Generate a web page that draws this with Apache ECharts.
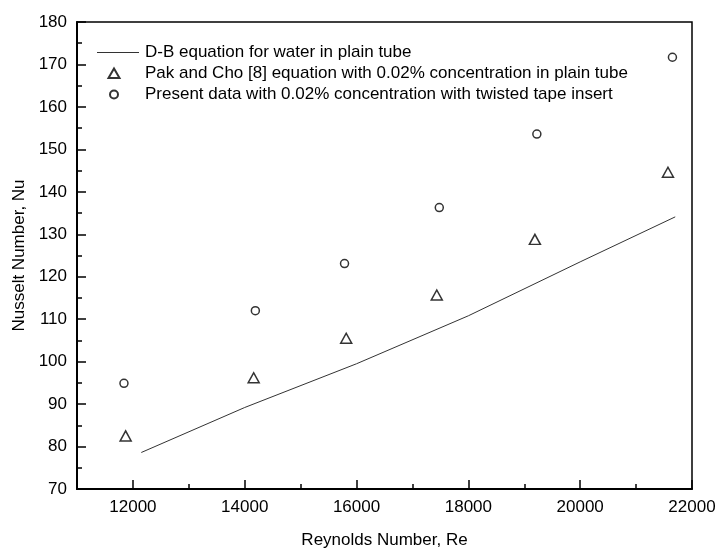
<!DOCTYPE html>
<html>
<head>
<meta charset="utf-8">
<script src="https://cdn.jsdelivr.net/npm/echarts@6/dist/echarts.min.js"></script>
<style>html,body{margin:0;padding:0;background:#fff;}#c{width:717px;height:549px;}</style>
</head>
<body>
<div id="c"></div>
<script>
var seriesNames = [
  'D-B equation for water in plain tube',
  'Pak and Cho [8] equation with 0.02% concentration in plain tube',
  'Present data with 0.02% concentration with twisted tape insert'
];
var dbRe = [12150, 14000, 16000, 18000, 20000, 21700];
var dbNu = [78.6, 89.2, 99.5, 110.8, 123.5, 134.1];
var pakRe = [11870, 14160, 15815, 17435, 19190, 21570];
var pakNu = [82.5, 96.2, 105.5, 115.7, 128.8, 144.6];
var presRe = [11840, 14190, 15785, 17480, 19225, 21650];
var presNu = [94.9, 112.0, 123.1, 136.3, 153.6, 171.7];
var xMajorTicks = [12000, 14000, 16000, 18000, 20000, 22000];
var xMinorTicks = [13000, 15000, 17000, 19000, 21000];

function zip(a, b) { return a.map(function (v, i) { return [v, b[i]]; }); }

var FONT = 'Liberation Sans, Arial, sans-serif';
var lineIcon = 'path://M0,0M44,10M1,4.5L43,4.5L43,5.5L1,5.5Z';
var triIcon = 'path://M0,0M44,10M12.5,9.5L18,0L23.5,9.5Z';
var circIcon = 'path://M0,0M44,10M14,5A4,4 0 1,1 22,5A4,4 0 1,1 14,5Z';
var chart = echarts.init(document.getElementById('c'), null, { renderer: 'canvas' });
chart.setOption({
  animation: false,
  backgroundColor: '#fff',
  textStyle: { fontFamily: FONT },
  grid: { left: 77, right: 25, top: 22, bottom: 60, show: true, borderColor: '#000', borderWidth: 1.5,
    containLabel: false, outerBoundsMode: 'none' },
  legend: {
    orient: 'vertical', left: 90, top: 39,
    itemWidth: 44, itemHeight: 10, itemGap: 4,
    textStyle: { fontSize: 17, color: '#000', fontFamily: FONT, lineHeight: 17 },
    data: [
      { name: seriesNames[0], icon: lineIcon },
      { name: seriesNames[1], icon: triIcon },
      { name: seriesNames[2], icon: circIcon }
    ]
  },
  xAxis: [{
    type: 'value', min: 11000, max: 22000, position: 'bottom',
    name: 'Reynolds Number, Re', nameLocation: 'middle', nameGap: 43,
    nameTextStyle: { fontSize: 17, color: '#000', fontFamily: FONT },
    axisLine: { show: true, onZero: false, lineStyle: { color: '#000', width: 2 } },
    axisTick: { show: true, inside: true, length: 9, customValues: xMajorTicks, lineStyle: { color: '#000', width: 1.5 } },
    axisLabel: { customValues: xMajorTicks, fontSize: 17, color: '#000', margin: 10, fontFamily: FONT, showMaxLabel: true, hideOverlap: false,
      formatter: function (v) { return String(v); } },
    splitLine: { show: false }
  }, {
    type: 'value', min: 11000, max: 22000, position: 'bottom', offset: 0,
    axisLine: { show: false },
    axisTick: { show: true, inside: true, length: 5, customValues: xMinorTicks, lineStyle: { color: '#000', width: 1.5 } },
    axisLabel: { show: false },
    splitLine: { show: false }
  }],
  yAxis: {
    type: 'value', min: 70, max: 180, interval: 10,
    name: 'Nusselt Number, Nu', nameLocation: 'middle', nameGap: 48,
    nameTextStyle: { fontSize: 17, color: '#000', fontFamily: FONT },
    axisLine: { show: true, onZero: false, lineStyle: { color: '#000', width: 2 } },
    axisTick: { show: true, inside: true, length: 9, lineStyle: { color: '#000', width: 1.5 } },
    minorTick: { show: true, splitNumber: 2, length: 5, lineStyle: { color: '#000', width: 1.5 } },
    axisLabel: { fontSize: 17, color: '#000', margin: 10, fontFamily: FONT },
    splitLine: { show: false }
  },
  series: [{
    name: seriesNames[0], type: 'line', data: zip(dbRe, dbNu),
    symbol: 'none', showSymbol: false, smooth: false,
    lineStyle: { color: '#333', width: 1 }, itemStyle: { color: '#333' }
  }, {
    name: seriesNames[1], type: 'scatter', data: zip(pakRe, pakNu),
    symbol: 'triangle', symbolSize: [11, 10], symbolKeepAspect: true,
    itemStyle: { color: '#fff', borderColor: '#000', borderWidth: 1.5 }
  }, {
    name: seriesNames[2], type: 'scatter', data: zip(presRe, presNu),
    symbol: 'circle', symbolSize: 8, symbolKeepAspect: true,
    itemStyle: { color: '#fff', borderColor: '#000', borderWidth: 1.5 }
  }]
});
</script>
</body>
</html>
